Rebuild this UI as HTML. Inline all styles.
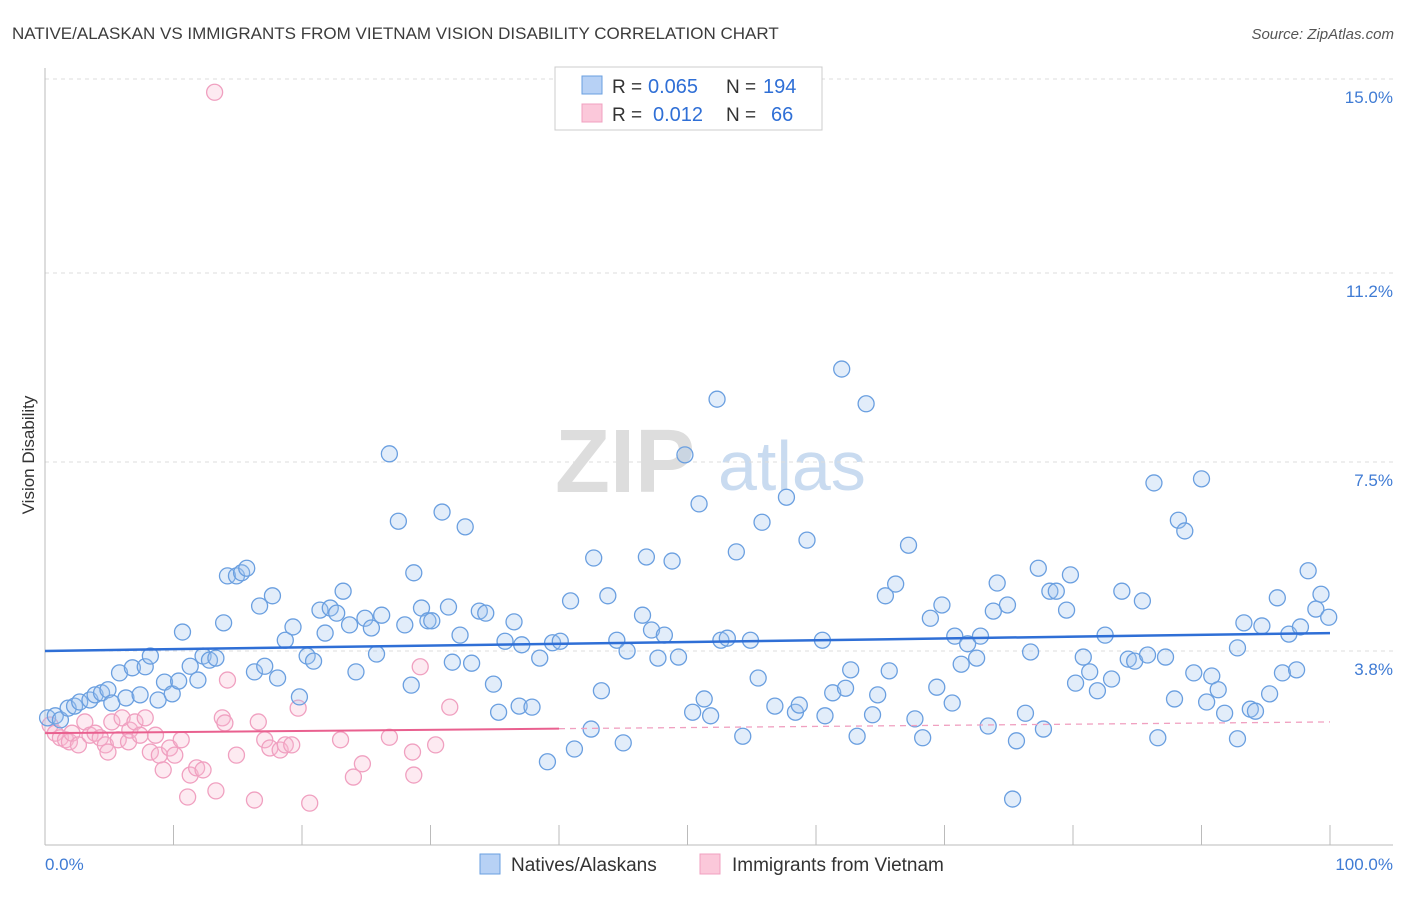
<!DOCTYPE html>
<html><head><meta charset="utf-8"><style>
body{margin:0;background:#fff;font-family:"Liberation Sans",sans-serif;}
svg text{font-family:"Liberation Sans",sans-serif;}
</style></head><body>
<svg id="chart" width="1406" height="892" viewBox="0 0 1406 892" xmlns="http://www.w3.org/2000/svg">
<text x="12" y="39" font-size="17" fill="#3c3c3c">NATIVE/ALASKAN VS IMMIGRANTS FROM VIETNAM VISION DISABILITY CORRELATION CHART</text>
<text x="1394" y="39" font-size="15" fill="#555" font-style="italic" text-anchor="end">Source: ZipAtlas.com</text>
<g>
<text x="555" y="492" font-size="90" fill="#ddd" font-family="Liberation Serif" font-weight="bold">ZIP</text>
<text x="718" y="490" font-size="70" fill="#c9dbf0">atlas</text>
</g>
<text transform="translate(34,455) rotate(-90)" font-size="17" fill="#333" text-anchor="middle">Vision Disability</text>
<g id="grid"></g>
<g id="axes"></g>
<g id="marks"></g>
<g>
<rect x="555" y="67" width="267" height="63" fill="#fff" stroke="#ccc"/>
<rect x="582" y="76" width="20" height="18" fill="#b7d1f5" stroke="#6a9fe0"/>
<rect x="582" y="104" width="20" height="18" fill="#fbc8da" stroke="#f0a0c0"/>
<text x="612" y="93" font-size="19" fill="#333">R =</text>
<text x="648" y="93" font-size="20" fill="#2f6fd6">0.065</text>
<text x="726" y="93" font-size="19" fill="#333">N =</text>
<text x="763" y="93" font-size="20" fill="#2f6fd6">194</text>
<text x="612" y="121" font-size="19" fill="#333">R =</text>
<text x="653" y="121" font-size="20" fill="#2f6fd6">0.012</text>
<text x="726" y="121" font-size="19" fill="#333">N =</text>
<text x="771" y="121" font-size="20" fill="#2f6fd6">66</text>
</g>
<g>
<rect x="480" y="854" width="20" height="20" fill="#b7d1f5" stroke="#6a9fe0"/>
<text x="511" y="871" font-size="19" fill="#333">Natives/Alaskans</text>
<rect x="700" y="854" width="20" height="20" fill="#fbc8da" stroke="#f0a0c0"/>
<text x="732" y="871" font-size="19" fill="#333">Immigrants from Vietnam</text>
</g>
</svg>
<script>
const blueX=[0.2,0.8,1.2,1.8,2.3,2.7,3.5,3.9,4.4,4.9,5.2,5.8,6.3,6.8,7.4,7.8,8.2,8.8,9.3,9.9,10.4,10.7,11.3,11.9,12.3,12.8,13.3,13.9,14.2,14.9,15.3,15.7,16.3,16.7,17.1,17.7,18.1,18.7,19.3,19.8,20.4,20.9,21.4,21.8,22.2,22.7,23.2,23.7,24.2,24.9,25.4,25.8,26.2,26.8,27.5,28.0,28.5,28.7,29.3,29.8,30.1,30.9,31.4,31.7,32.3,32.7,33.2,33.8,34.3,34.9,35.3,35.8,36.5,36.9,37.1,37.9,38.5,39.1,39.5,40.1,40.9,41.2,42.5,42.7,43.3,43.8,44.5,45.0,45.3,46.5,46.8,47.2,47.7,48.2,48.8,49.3,49.8,50.4,50.9,51.3,51.8,52.3,52.6,53.1,53.8,54.3,54.9,55.5,55.8,56.8,57.7,58.4,58.7,59.3,60.5,60.7,61.3,62.0,62.3,62.7,63.2,63.9,64.4,64.8,65.4,65.7,66.2,67.2,67.7,68.3,68.9,69.4,69.8,70.6,70.8,71.3,71.8,72.5,72.8,73.4,73.8,74.1,74.9,75.3,75.6,76.3,76.7,77.3,77.7,78.2,78.7,79.5,79.8,80.2,80.8,81.3,81.9,82.5,83.0,83.8,84.3,84.8,85.4,85.8,86.3,86.6,87.2,87.9,88.2,88.7,89.4,90.0,90.4,90.8,91.3,91.8,92.8,92.8,93.3,93.8,94.2,94.7,95.3,95.9,96.3,96.8,97.4,97.7,98.3,98.9,99.3,99.9];
const blueY=[2.49,2.53,2.45,2.68,2.72,2.80,2.84,2.94,2.98,3.04,2.78,3.37,2.88,3.47,2.94,3.49,3.70,2.84,3.19,2.96,3.21,4.17,3.50,3.23,3.70,3.62,3.66,4.35,5.27,5.27,5.33,5.42,3.39,4.68,3.50,4.88,3.27,4.01,4.27,2.90,3.70,3.60,4.60,4.15,4.64,4.54,4.97,4.31,3.39,4.44,4.25,3.74,4.50,7.66,6.34,4.31,3.13,5.33,4.64,4.39,4.39,6.52,4.66,3.58,4.11,6.23,3.56,4.58,4.54,3.15,2.60,3.99,4.37,2.72,3.92,2.70,3.66,1.63,3.96,3.99,4.78,1.88,2.27,5.62,3.02,4.88,4.01,2.00,3.80,4.50,5.64,4.21,3.66,4.11,5.56,3.68,7.64,2.60,6.68,2.86,2.53,8.73,4.01,4.05,5.74,2.13,4.01,3.27,6.32,2.72,6.81,2.60,2.74,5.97,4.01,2.53,2.98,9.32,3.07,3.43,2.13,8.64,2.55,2.94,4.88,3.41,5.11,5.87,2.47,2.10,4.44,3.09,4.70,2.78,4.09,3.54,3.94,3.66,4.09,2.33,4.58,5.13,4.70,0.90,2.04,2.58,3.78,5.42,2.27,4.97,4.97,4.60,5.29,3.17,3.68,3.39,3.02,4.11,3.25,4.97,3.64,3.60,4.78,3.72,7.09,2.10,3.68,2.86,6.36,6.15,3.37,7.17,2.80,3.31,3.04,2.58,2.08,3.86,4.35,2.66,2.62,4.29,2.96,4.84,3.37,4.13,3.43,4.27,5.37,4.62,4.91,4.46];
const pinkX=[0.4,0.8,1.2,1.6,1.9,2.1,2.6,3.1,3.5,3.9,4.3,4.7,4.9,5.2,5.7,6.0,6.5,6.6,7.0,7.4,7.8,8.2,8.6,8.9,9.2,9.7,10.1,10.6,11.1,11.3,11.8,12.3,13.2,13.3,13.8,14.0,14.2,14.9,16.3,16.6,17.1,17.5,18.3,18.7,19.2,19.7,20.6,23.0,24.0,24.7,26.8,28.6,28.7,29.2,30.4,31.5];
const pinkY=[2.35,2.19,2.10,2.06,2.02,2.19,1.96,2.41,2.15,2.19,2.10,1.96,1.82,2.41,2.06,2.49,2.02,2.25,2.41,2.15,2.49,1.82,2.15,1.76,1.47,1.90,1.76,2.06,0.94,1.37,1.51,1.47,14.74,1.06,2.49,2.39,3.23,1.76,0.88,2.41,2.06,1.90,1.86,1.96,1.96,2.68,0.82,2.06,1.33,1.59,2.11,1.82,1.37,3.49,1.96,2.70];
const yTicks=[3.8,7.5,11.2,15.0];
const yTickLabels=["3.8%","7.5%","11.2%","15.0%"];
const blueTrend=[3.8,4.15];
const pinkTrend=[2.19,2.41];
const pinkSolidEnd=40;

const NS="http://www.w3.org/2000/svg";
const X0=45,X1=1330,YB=845,YT=79,VMAX=15;
function sx(v){return X0+(v/100)*(X1-X0);}
function sy(v){return YB-(v/VMAX)*(YB-YT);}
function mk(tag,attrs,parent){const e=document.createElementNS(NS,tag);for(const k in attrs)e.setAttribute(k,attrs[k]);parent.appendChild(e);return e;}
const grid=document.getElementById('grid'),axes=document.getElementById('axes'),marks=document.getElementById('marks');
yTicks.forEach((t,i)=>{
  const l=mk('line',{x1:X0,x2:1393,y1:sy(t),y2:sy(t),stroke:'#ddd','stroke-dasharray':'4,4'},grid);
  
  
  const tx=mk('text',{x:1393,y:sy(t)+24,'font-size':'17',fill:'#3f7bd4','text-anchor':'end'},axes);
  tx.textContent=yTickLabels[i];
  
  
});
const xa=mk('line',{x1:X0,x2:1393,y1:YB,y2:YB,stroke:'#bbb'},axes);


const ya=mk('line',{x1:X0,x2:X0,y1:68,y2:YB,stroke:'#bbb'},axes);


for(let i=0;i<=10;i++){
  const t=mk('line',{x1:sx(i*10),x2:sx(i*10),y1:825,y2:YB,stroke:'#bbb'},axes);
  
  
}
const xl0=mk('text',{x:45,y:870,'font-size':'17',fill:'#3f7bd4'},axes);xl0.textContent='0.0%';


const xl1=mk('text',{x:1393,y:870,'font-size':'17',fill:'#3f7bd4','text-anchor':'end'},axes);xl1.textContent='100.0%';


pinkX.forEach((x,i)=>{
  const c=mk('circle',{cx:sx(x),cy:sy(pinkY[i]),r:8,fill:'rgba(248,185,208,0.3)',stroke:'#f0a0c0','stroke-width':1.3},marks);
  
  
});
blueX.forEach((x,i)=>{
  const c=mk('circle',{cx:sx(x),cy:sy(blueY[i]),r:8,fill:'rgba(160,195,240,0.3)',stroke:'#6a9fe0','stroke-width':1.3},marks);
  
  
});
const bt=mk('line',{x1:sx(0),y1:sy(blueTrend[0]),x2:sx(100),y2:sy(blueTrend[1]),stroke:'#2f6fd6','stroke-width':2.5},marks);


const pm=pinkTrend[0]+(pinkTrend[1]-pinkTrend[0])*pinkSolidEnd/100;
const pt=mk('line',{x1:sx(0),y1:sy(pinkTrend[0]),x2:sx(pinkSolidEnd),y2:sy(pm),stroke:'#e9608f','stroke-width':2},marks);


const pd=mk('line',{x1:sx(pinkSolidEnd),y1:sy(pm),x2:sx(100),y2:sy(pinkTrend[1]),stroke:'#f0a0c0','stroke-width':1.3,'stroke-dasharray':'6,5'},marks);


</script>
</body></html>
